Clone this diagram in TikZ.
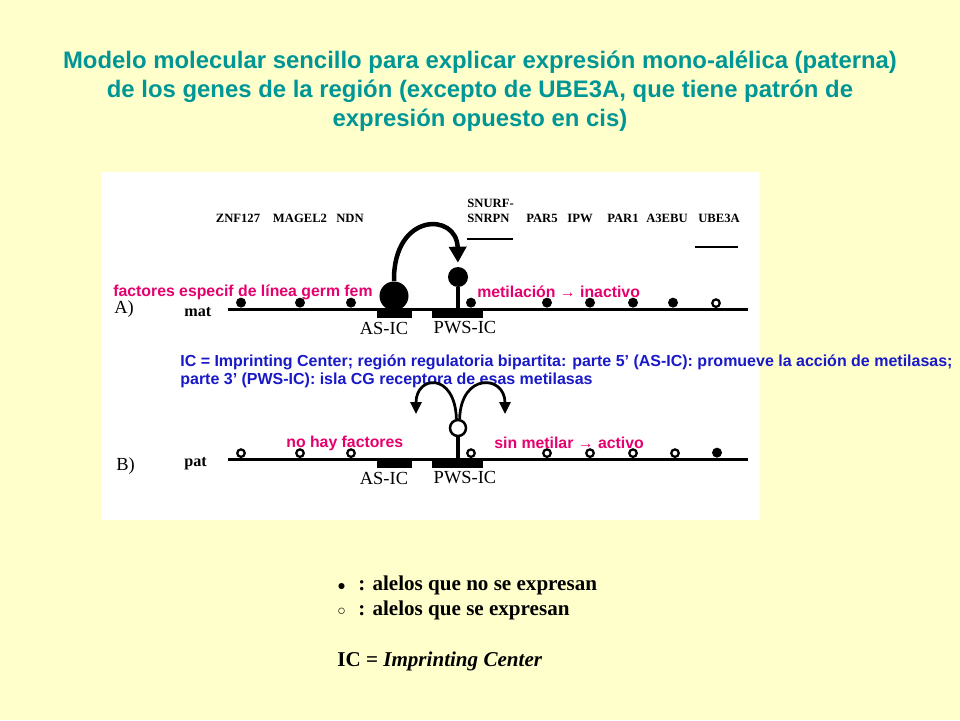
\documentclass[tikz,border=0pt]{standalone}
\usepackage{fontspec}
\setmainfont{Liberation Serif}
\setsansfont{Liberation Sans}
\usetikzlibrary{positioning,arrows.meta}
\definecolor{fondo}{RGB}{255,255,204}
\definecolor{titulo}{RGB}{0,150,150}
\definecolor{rosa}{RGB}{230,0,110}
\definecolor{azul}{RGB}{25,25,200}

\begin{document}
\begin{tikzpicture}[x=0.02cm,y=-0.02cm,
  alelo/.style={circle,fill=black,inner sep=0pt,minimum size=0.2cm,anchor=south},
  libre/.style={circle,draw=black,line width=0.045cm,fill=white,inner sep=0pt,minimum size=0.15cm,anchor=south},
  gen/.style={font=\fontsize{7.2}{8.5}\selectfont\bfseries,inner sep=0pt},
  ic/.style={font=\fontsize{10.5}{11}\selectfont,inner sep=0pt},
  nota/.style={text=rosa,font=\sffamily\bfseries\fontsize{9}{10}\selectfont,inner sep=0pt,anchor=west},
  flecha/.style={line width=0.09cm,-{Triangle[length=0.32cm,width=0.34cm]}},
  flechab/.style={line width=0.055cm,-{Triangle[length=0.24cm,width=0.22cm]}}]
\fill[fondo] (0,0) rectangle (960,720);
\useasboundingbox (0,0) rectangle (960,720);
\fill[white] (101,172) rectangle (760,520);
% titulo
\node[text=titulo,font=\sffamily\bfseries\fontsize{13.6}{16.5}\selectfont,align=center] (titulo) at (480,91)
  {Modelo molecular sencillo para explicar expresión mono-alélica (paterna)\\
   de los genes de la región (excepto de UBE3A, que tiene patrón de\\
   expresión opuesto en cis)};
% genes
\node[gen] (znf) at (238,218) {ZNF127};
\node[gen] (magel) at (300,218) {MAGEL2};
\node[gen] (ndn) at (350,218) {NDN};
\node[gen,align=left,anchor=west] (snrpn) at (467,210.5) {SNURF-\\SNRPN};
\node[gen] (par5) at (542,218) {PAR5};
\node[gen] (ipw) at (580,218) {IPW};
\node[gen] (par1) at (623,218) {PAR1};
\node[gen] (a3ebu) at (667,218) {A3EBU};
\node[gen] (ube) at (719,218) {UBE3A};
\draw[line width=0.04cm] (467,239) -- (513,239);
\draw[line width=0.04cm] (695,247) -- (738,247);
% A) materno
\coordinate (mA0) at (228,309);
\coordinate (mA1) at (748,309);
\draw[line width=0.06cm] (mA0) -- (mA1);
\fill (377,309) rectangle (412,318);
\fill (432,309) rectangle (483,318);
\foreach \x [count=\i] in {241,300,351,471,547,590,633,673}
  \node[alelo] (alA\i) at (\x,308) {};
\node[libre] (alA9) at (716,308) {};
\node[circle,fill=black,minimum size=0.58cm,inner sep=0pt] (asA) at (394,296) {};
\node[circle,fill=black,minimum size=0.4cm,inner sep=0pt] (pwsA) at (458,277) {};
\coordinate (baseA) at (458,309);
\draw[line width=0.08cm] (pwsA.south) -- (baseA);
\draw[flecha,shorten >=0.08cm] (asA.north) .. controls (393,212) and (457,212) .. (pwsA.north);
\node[ic] (asicA) at (384,328) {AS-IC};
\node[ic] (pwsicA) at (465,328) {PWS-IC};
\node[font=\fontsize{10.5}{11}\selectfont,anchor=west,inner sep=0pt] (letA) at (114,309) {A)};
\node[font=\bfseries\fontsize{9.2}{10}\selectfont,anchor=west,inner sep=0pt] (matA) at (184,312) {mat};
\node[nota] (factA) at (113,292) {factores especif de línea germ fem};
\node[nota] (metA) at (477,292) {metilación → inactivo};
% nota IC
\node[text=azul,font=\sffamily\bfseries\fontsize{9.1}{10.2}\selectfont,align=left,anchor=west,inner sep=0pt] (notaIC) at (180,371)
  {IC = Imprinting Center; región regulatoria bipartita: parte 5’ (AS-IC): promueve la acción de metilasas;\\
   parte 3’ (PWS-IC): isla CG receptora de esas metilasas};
% B) paterno
\coordinate (pB0) at (228,459);
\coordinate (pB1) at (748,459);
\draw[line width=0.06cm] (pB0) -- (pB1);
\fill (377,459) rectangle (412,468);
\fill (432,459) rectangle (483,468);
\foreach \x [count=\i] in {241,300,351,471,547,590,633,675}
  \node[libre] (alB\i) at (\x,458) {};
\node[alelo] (alB9) at (717,458) {};
\node[circle,draw=black,line width=0.05cm,fill=white,minimum size=0.32cm,inner sep=0pt] (pwsB) at (458,428) {};
\coordinate (baseB) at (458,459);
\draw[line width=0.08cm] (pwsB.south) -- (baseB);
\coordinate (izqB) at (416,414);
\coordinate (derB) at (505,414);
\draw[flechab] (pwsB.100) .. controls (455,372) and (416,375) .. (izqB);
\draw[flechab] (pwsB.80) .. controls (461,372) and (505,375) .. (derB);
\node[ic] (asicB) at (384,478) {AS-IC};
\node[ic] (pwsicB) at (465,478) {PWS-IC};
\node[font=\fontsize{10.5}{11}\selectfont,anchor=west,inner sep=0pt] (letB) at (116,466) {B)};
\node[font=\bfseries\fontsize{9.2}{10}\selectfont,anchor=west,inner sep=0pt] (patB) at (184,464) {pat};
\node[nota] (factB) at (286,443) {no hay factores};
\node[nota] (metB) at (494,443) {sin metilar → activo};
% leyenda
\node[font=\bfseries\fontsize{12}{14}\selectfont,anchor=west,inner sep=0pt] (ley1) at (337,585)
  {{\fontsize{8}{9}\selectfont ●}\hspace{0.6em}: alelos que no se expresan};
\node[font=\bfseries\fontsize{12}{14}\selectfont,anchor=west,inner sep=0pt] (ley2) at (337,610)
  {{\fontsize{8}{9}\selectfont ○}\hspace{0.6em}: alelos que se expresan};
\node[font=\bfseries\fontsize{12}{14}\selectfont,anchor=west,inner sep=0pt] (ley3) at (337,661)
  {IC = \textit{Imprinting Center}};
\end{tikzpicture}
\end{document}
